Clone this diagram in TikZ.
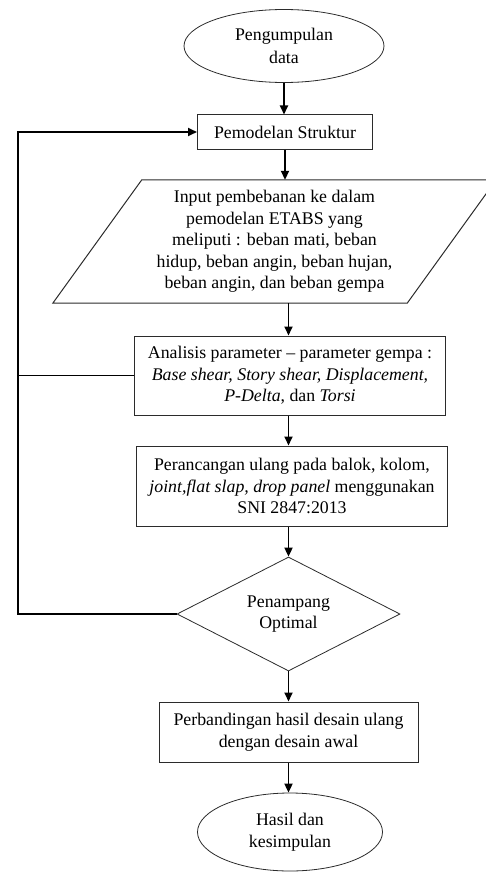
\documentclass[tikz,border=0pt]{standalone}
\usepackage{fontspec}
\setmainfont{Liberation Serif}
\usetikzlibrary{shapes.geometric,arrows.meta}
\definecolor{shapeEdge}{HTML}{2B2B2B}

\begin{document}
\begin{tikzpicture}[x=1pt, y=-1pt,
    every node/.style={font=\fontsize{17.8}{21.5}\selectfont, align=center},
    terminal/.style={ellipse, draw=shapeEdge, line width=0.8pt, inner sep=0pt},
    process/.style={rectangle, draw=shapeEdge, line width=1pt},
    inout/.style={rectangle, inner sep=0pt},
    decision/.style={diamond, aspect=2, inner sep=0pt, draw=shapeEdge, line width=0.8pt},
    flow/.style={->, line width=1.8pt},
    >={Triangle[length=9pt, width=8pt]}]
    \useasboundingbox (0,0) rectangle (486,872);
    \node[terminal, minimum width=200pt, minimum height=73pt] (start) at (284,46) {Pengumpulan\\[2pt]data};
    \node[process, minimum width=175pt, minimum height=34pt] (model) at (285,132) {Pemodelan Struktur};
    \node[inout, minimum width=354pt, minimum height=123pt] (input) at (274.5,241.5)
        {Input pembebanan ke dalam\\pemodelan ETABS yang\\meliputi : beban mati, beban\\hidup, beban angin, beban hujan,\\beban angin, dan beban gempa};
    \draw[shapeEdge, line width=1pt] ([xshift=44.5pt]input.north west) -- ([xshift=44.5pt]input.north east)
        -- ([xshift=-44.5pt]input.south east) -- ([xshift=-44.5pt]input.south west) -- cycle;
    \node[process, minimum width=311pt, minimum height=79pt] (analysis) at (290,375.5)
        {Analisis parameter -- parameter gempa :\\\textit{Base shear, Story shear, Displacement,}\\\textit{P-Delta}, dan \textit{Torsi}};
    \node[process, minimum width=311pt, minimum height=80pt] (design) at (292,486)
        {Perancangan ulang pada balok, kolom,\\\textit{joint,flat slap, drop panel} menggunakan\\SNI 2847:2013};
    \node[decision, minimum width=223pt, minimum height=114pt] (check) at (288.5,614) {Penampang\\Optimal};
    \node[process, minimum width=259pt, minimum height=60pt] (compare) at (288.5,732)
        {Perbandingan hasil desain ulang\\dengan desain awal};
    \node[terminal, minimum width=185pt, minimum height=78pt] (finish) at (290,832) {Hasil dan\\kesimpulan};
    \coordinate (looptop) at (18,132);

    \draw[flow] (start.south) -- (start.south |- model.north);
    \draw[flow] (model.south) -- (model.south |- input.north);
    \draw[flow] (check.north |- input.south) -- (check.north |- analysis.north);
    \draw[flow] (check.north |- analysis.south) -- (check.north |- design.north);
    \draw[flow] (check.north |- design.south) -- (check.north);
    \draw[flow] (check.south) -- (check.south |- compare.north);
    \draw[flow] (compare.south) -- (compare.south |- finish.north);
    \draw[flow] (check.west) -| (looptop) -- (model.west);
    \draw[line width=1.8pt] (analysis.west) -- (analysis.west -| looptop);
\end{tikzpicture}
\end{document}
